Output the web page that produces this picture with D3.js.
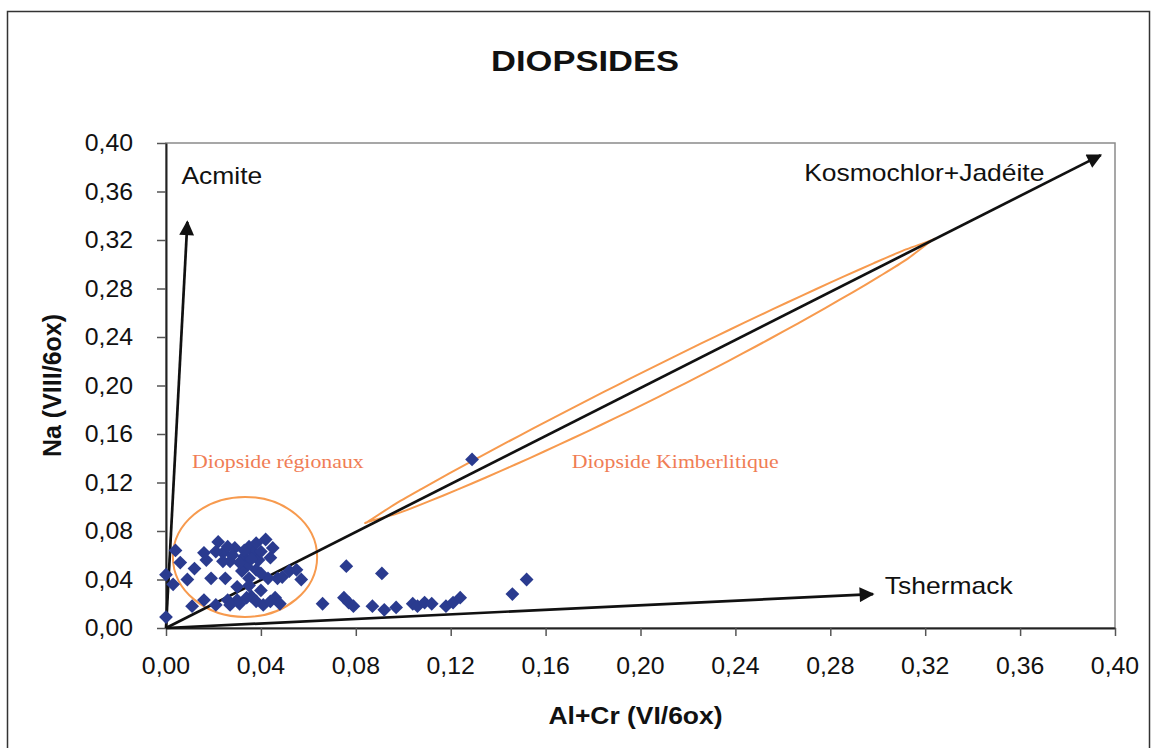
<!DOCTYPE html>
<html>
<head>
<meta charset="utf-8">
<script src="https://cdn.jsdelivr.net/npm/d3@7"></script>
<style>
  body { margin: 0; background: #fff; }
  svg { display: block; font-family: "Liberation Sans", Arial, sans-serif; }
</style>
</head>
<body>
<svg id="chart" width="1152" height="748"></svg>
<script>
// Al+Cr (VI/6ox) and Na (VIII/6ox) of each diopside analysis
var alCr = [
    0.000, 0.000, 0.003, 0.004, 0.006, 0.009, 0.012, 0.011, 0.016, 0.017,
    0.016, 0.019, 0.022, 0.024, 0.025, 0.027, 0.029, 0.030, 0.031, 0.033,
    0.034, 0.035, 0.035, 0.036, 0.037, 0.038, 0.039, 0.040, 0.041, 0.042,
    0.045, 0.043, 0.046, 0.047, 0.049, 0.052, 0.055, 0.057, 0.030, 0.026,
    0.021, 0.027, 0.034, 0.024, 0.021, 0.032, 0.026, 0.036, 0.040, 0.033,
    0.038, 0.044, 0.031, 0.028, 0.035, 0.038, 0.044, 0.048, 0.040,
    0.076, 0.091, 0.066, 0.075, 0.077, 0.079, 0.087, 0.092, 0.097, 0.104,
    0.106, 0.109, 0.112, 0.118, 0.121, 0.124, 0.146, 0.152, 0.129
];
var na = [
    0.009, 0.044, 0.036, 0.064, 0.054, 0.040, 0.049, 0.018, 0.062, 0.056,
    0.023, 0.041, 0.071, 0.062, 0.041, 0.055, 0.066, 0.034, 0.020, 0.059,
    0.051, 0.067, 0.041, 0.026, 0.062, 0.070, 0.056, 0.031, 0.019, 0.073,
    0.066, 0.041, 0.025, 0.041, 0.042, 0.047, 0.048, 0.040, 0.023, 0.023,
    0.019, 0.019, 0.025, 0.055, 0.063, 0.047, 0.067, 0.057, 0.063, 0.064,
    0.048, 0.058, 0.054, 0.060, 0.035, 0.022, 0.022, 0.020, 0.045,
    0.051, 0.045, 0.020, 0.025, 0.021, 0.018, 0.018, 0.015, 0.017, 0.020,
    0.018, 0.021, 0.020, 0.018, 0.021, 0.025, 0.028, 0.040, 0.139
];

// end members, arrows drawn from the origin
var endMembers = ["Acmite", "Kosmochlor+Jadéite", "Tshermack"];
var endX = [0.009, 0.394, 0.298];
var endY = [0.335, 0.390, 0.028];

var xTicks = [0, 0.04, 0.08, 0.12, 0.16, 0.20, 0.24, 0.28, 0.32, 0.36, 0.40];
var yTicks = [0, 0.04, 0.08, 0.12, 0.16, 0.20, 0.24, 0.28, 0.32, 0.36, 0.40];

// hand drawn fields
var regionalCentre = [0.0333, 0.0586];
var regionalRadius = [0.0304, 0.0495];
var kimberStart = [0.085, 0.0875];
var kimberEnd = [0.323, 0.320];

var w = 1152;
var h = 748;
var margin = { top: 143, right: 37, bottom: 120, left: 166 };
var orange = "#f79a4e";
var blue = "#2a3b8f";
var sx = 1.15; // the reference is a bit wide

var svg = d3.select("#chart");
var width = w - margin.left - margin.right;
var height = h - margin.top - margin.bottom;

var fmt = function(d) { return d3.format(".2f")(d).replace(".", ","); };

// text helper, stretched horizontally
var addText = function(parent, x, y, txt, opts) {
    opts = opts || {};
    return parent.append("text")
        .attr("transform", "translate(" + x + "," + y + ")" + (opts.rotate ? "rotate(" + opts.rotate + ")" : "") + "scale(" + (opts.sx || sx) + ",1)")
        .attr("text-anchor", opts.anchor || "start")
        .attr("font-size", opts.size || 22)
        .attr("font-weight", opts.bold ? "bold" : "normal")
        .attr("font-family", opts.family || null)
        .attr("fill", opts.fill || "#111")
        .text(txt);
};

// outer frame
svg.append("rect")
    .attr("x", 7.5).attr("y", 11.5)
    .attr("width", 1142).attr("height", 760)
    .attr("fill", "none").attr("stroke", "#333").attr("stroke-width", 1.5);

var g = svg.append("g")
    .attr("transform", "translate(" + margin.left + "," + margin.top + ")");

var x = d3.scaleLinear().domain([0, 0.4]).range([0, width]);
var y = d3.scaleLinear().domain([0, 0.4]).range([height, 0]);

// plot area
g.append("rect")
    .attr("width", width).attr("height", height)
    .attr("fill", "none").attr("stroke", "#8a8a8a").attr("stroke-width", 1.5);

// axes
var xAxis = g.append("g")
    .attr("transform", "translate(0," + height + ")")
    .call(d3.axisBottom(x).tickValues(xTicks).tickFormat("").tickSize(8).tickSizeOuter(0));
var yAxis = g.append("g")
    .call(d3.axisLeft(y).tickValues(yTicks).tickFormat("").tickSize(9).tickSizeOuter(0));
[xAxis, yAxis].forEach(function(a) {
    a.select(".domain").attr("stroke", "#222").attr("stroke-width", 2);
    a.selectAll(".tick line").attr("stroke", "#555").attr("stroke-width", 1.5);
});

xTicks.forEach(function(t) {
    addText(g, x(t), height + 46, fmt(t), { anchor: "middle", size: 23, sx: 1.08 });
});
yTicks.forEach(function(t) {
    addText(g, -33, y(t) + 8, fmt(t), { anchor: "end", size: 23, sx: 1.08 });
});

// hand drawn fields
g.append("ellipse")
    .attr("cx", x(regionalCentre[0])).attr("cy", y(regionalCentre[1]))
    .attr("rx", x(regionalRadius[0]) - x(0)).attr("ry", y(0) - y(regionalRadius[1]))
    .attr("fill", "none").attr("stroke", orange).attr("stroke-width", 2);

var p0 = [x(kimberStart[0]), y(kimberStart[1])];
var p1 = [x(kimberEnd[0]), y(kimberEnd[1])];
var len = Math.hypot(p1[0] - p0[0], p1[1] - p0[1]);
var ux = (p1[0] - p0[0]) / len, uy = (p1[1] - p0[1]) / len;
var nx = uy, ny = -ux; // normal pointing up-left
var outline = [];
d3.range(0, 1.0001, 0.05).forEach(function(t) {
    var s = Math.pow(Math.sin(Math.PI * t), 0.6) * 18;
    outline.push([p0[0] + ux * len * t - nx * s, p0[1] + uy * len * t - ny * s]);
});
d3.range(1, -0.0001, -0.05).forEach(function(t) {
    var s = Math.pow(Math.sin(Math.PI * t), 0.6) * 11;
    outline.push([p0[0] + ux * len * t + nx * s, p0[1] + uy * len * t + ny * s]);
});
g.append("path")
    .attr("d", d3.line().curve(d3.curveCardinalClosed.tension(0.3))(outline))
    .attr("fill", "none").attr("stroke", orange).attr("stroke-width", 2);

// arrows towards the end members
svg.append("defs").append("marker")
    .attr("id", "head")
    .attr("viewBox", "0 0 10 10")
    .attr("refX", 9).attr("refY", 5)
    .attr("markerWidth", 7.5).attr("markerHeight", 5.5)
    .attr("markerUnits", "strokeWidth")
    .attr("orient", "auto")
    .append("path").attr("d", "M0,0L10,5L0,10z").attr("fill", "#111");

endMembers.forEach(function(name, i) {
    g.append("line")
        .attr("x1", x(0)).attr("y1", y(0))
        .attr("x2", x(endX[i])).attr("y2", y(endY[i]))
        .attr("stroke", "#111").attr("stroke-width", 2.7)
        .attr("marker-end", "url(#head)");
});

// points
g.append("g").selectAll("path")
    .data(alCr)
    .enter()
    .append("path")
    .attr("d", d3.symbol().type(d3.symbolSquare).size(95))
    .attr("transform", function(d, i) {
        return "translate(" + x(d) + "," + y(na[i]) + ")rotate(45)";
    })
    .attr("fill", blue);

// labels
addText(g, x(0.0065), y(0.366), endMembers[0], { size: 23 });
addText(g, x(0.269), y(0.369), endMembers[1], { size: 23 });
addText(g, x(0.303), y(0.028), endMembers[2], { size: 23 });

addText(g, x(0.011), y(0.132), "Diopside régionaux", { size: 19, family: "Liberation Serif", fill: "#f07d55" });
addText(g, x(0.171), y(0.132), "Diopside Kimberlitique", { size: 19, family: "Liberation Serif", fill: "#f07d55" });

// titles
addText(svg, 585, 71, "DIOPSIDES", { anchor: "middle", size: 30, bold: true });
addText(svg, margin.left + width / 2 - 5, 724, "Al+Cr (VI/6ox)", { anchor: "middle", size: 23, bold: true });
svg.append("text")
    .attr("transform", "translate(61," + (margin.top + height / 2) + ")rotate(-90)")
    .attr("text-anchor", "middle")
    .attr("font-size", 25)
    .attr("font-weight", "bold")
    .attr("fill", "#111")
    .text("Na (VIII/6ox)");
</script>
</body>
</html>
